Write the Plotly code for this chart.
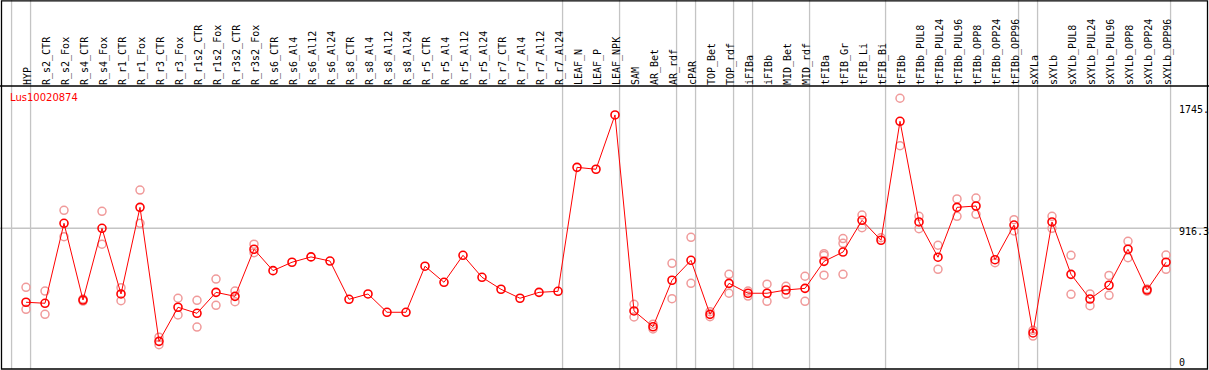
import plotly.graph_objects as go

labels = ["HYP", "R_s2_CTR", "R_s2_Fox", "R_s4_CTR", "R_s4_Fox", "R_r1_CTR", "R_r1_Fox",
          "R_r3_CTR", "R_r3_Fox", "R_r1s2_CTR", "R_r1s2_Fox", "R_r3s2_CTR", "R_r3s2_Fox",
          "R_s6_CTR", "R_s6_Al4", "R_s6_Al12", "R_s6_Al24", "R_s8_CTR", "R_s8_Al4", "R_s8_Al12",
          "R_s8_Al24", "R_r5_CTR", "R_r5_Al4", "R_r5_Al12", "R_r5_Al24", "R_r7_CTR", "R_r7_Al4",
          "R_r7_Al12", "R_r7_Al24", "LEAF_N", "LEAF_P", "LEAF_NPK", "SAM", "AR_Bet", "AR_rdf",
          "cPAR", "TOP_Bet", "TOP_rdf", "iFIBa", "iFIBb", "MID_Bet", "MID_rdf", "tFIBa",
          "tFIB_Gr", "tFIB_Li", "tFIB_Bi", "tFIBb", "tFIBb_PUL8", "tFIBb_PUL24", "tFIBb_PUL96",
          "tFIBb_OPP8", "tFIBb_OPP24", "tFIBb_OPP96", "sXYLa", "sXYLb", "sXYLb_PUL8",
          "sXYLb_PUL24", "sXYLb_PUL96", "sXYLb_OPP8", "sXYLb_OPP24", "sXYLb_OPP96"]

means = [415, 408, 950, 430, 916, 471, 1058, 150, 381, 340, 482, 455, 774,
         629, 686, 722, 694, 435, 471, 347, 347, 659, 550, 733, 584, 503, 442, 482, 489,
         1329, 1316, 1684,
         356, 249, 564, 699, 333, 543, 476, 476, 498, 509, 692, 755, 970, 835, 1641,
         959, 720, 1058, 1067, 703, 938, 207, 959, 604, 437, 530, 774, 498, 686]

N = None
rep1 = [516, 491, 1038, 437, 1031, 514, 1175, 178, 442, 428, 572, 491, 808,
        N, N, N, N, N, N, N, N, N, N, N, N, N, N, N, N, N, N, N,
        401, 266, 679, 855, 351, 604, 491, 537, 523, 591, 744, 846, 1006, 852, 1797,
        997, 801, 1115, 1121, 683, 974, 225, 997, 733, 471, 597, 828, 505, 735]
rep2 = [367, 333, 859, 423, 808, 425, 950, 127, 329, 247, 394, 419, 751,
        N, N, N, N, N, N, N, N, N, N, N, N, N, N, N, N, N, N, N,
        315, 234, 439, 543, 317, 476, 457, 421, 469, 421, 598, 604, 920, N, 1476,
        913, 638, 997, 1011, N, 898, 186, 916, 469, 392, 462, 717, 490, 638]
rep3 = [N] * 42 + [732, 814] + [N] * 17

group_ends = [-1, 0, 28, 31, 34, 35, 37, 38, 41, 45, 52, 53, 60]
ytick_vals = [1745, 916.3, 0]
ytick_text = ["1745.", "916.3", "0"]
title_text = "Lus10020874"

W, H = 1209, 370
T, B = 86, 1
plot_h = H - T - B
x0_px, step_px = 26, 19
xmin = (0 - x0_px) / step_px
xmax = (W - x0_px) / step_px
ymin, ymax = -37.3, 1880
top_paper = (H - B) / plot_h  # paper y of figure top

x = list(range(len(labels)))
fig = go.Figure()
pink = "#f09a9a"
for rep in (rep1, rep2, rep3):
    fig.add_trace(go.Scatter(x=x, y=rep, mode="markers", showlegend=False,
                             marker=dict(symbol="circle-open", size=8, color=pink,
                                         line=dict(width=1.5, color=pink))))
fig.add_trace(go.Scatter(x=x, y=means, mode="lines+markers", showlegend=False,
                         line=dict(color="#ff0000", width=1),
                         marker=dict(symbol="circle-open", size=8, color="#ff0000",
                                     line=dict(width=1.6, color="#ff0000"))))

shapes = []
gray = "#c4c4c4"
for g in group_ends:
    xv = g + 0.24
    shapes.append(dict(type="line", xref="x", yref="paper", x0=xv, x1=xv,
                       y0=0, y1=top_paper, line=dict(color=gray, width=1.3), layer="below"))
shapes.append(dict(type="line", xref="paper", yref="y", x0=0, x1=1207.5 / W,
                   y0=ytick_vals[1], y1=ytick_vals[1], line=dict(color=gray, width=1.3),
                   layer="below"))
# borders
shapes.append(dict(type="line", xref="paper", yref="paper", x0=0, x1=1, y0=1, y1=1,
                   line=dict(color="black", width=1.5)))
shapes.append(dict(type="rect", xref="paper", yref="paper", x0=1.5 / W, x1=1207.5 / W,
                   y0=0, y1=top_paper - 0.8 / plot_h, line=dict(color="black", width=1.3)))

annotations = [dict(text=title_text, xref="paper", yref="paper", x=8 / W,
                    y=(H - B - 90) / plot_h, xanchor="left", yanchor="top", showarrow=False,
                    font=dict(family="DejaVu Sans", size=10, color="#ff0000"))]
shifts = [-3.5, -3.7, 1]
for v, t, s in zip(ytick_vals, ytick_text, shifts):
    annotations.append(dict(text=t, xref="paper", yref="y", x=1177 / W, y=v,
                            xanchor="left", yanchor="middle", yshift=s, showarrow=False,
                            font=dict(family="DejaVu Sans Mono", size=10, color="black")))

fig.update_layout(
    width=W, height=H, margin=dict(l=0, r=0, t=T, b=B, pad=0),
    paper_bgcolor="white", plot_bgcolor="white",
    xaxis=dict(range=[xmin, xmax], side="top", tickmode="array", tickvals=x,
               ticktext=labels, tickangle=-90, showgrid=False, zeroline=False,
               showline=False, ticks="", fixedrange=True, ticklabelshift=2,
               tickfont=dict(family="DejaVu Sans Mono", size=10, color="black")),
    yaxis=dict(range=[ymin, ymax], showticklabels=False, showgrid=False, zeroline=False,
               showline=False, ticks="", fixedrange=True),
    shapes=shapes, annotations=annotations, showlegend=False,
)
fig.write_html("out.html", config={"displayModeBar": False},
               post_script="document.body.style.margin='0px';document.body.style.overflow='hidden';")
